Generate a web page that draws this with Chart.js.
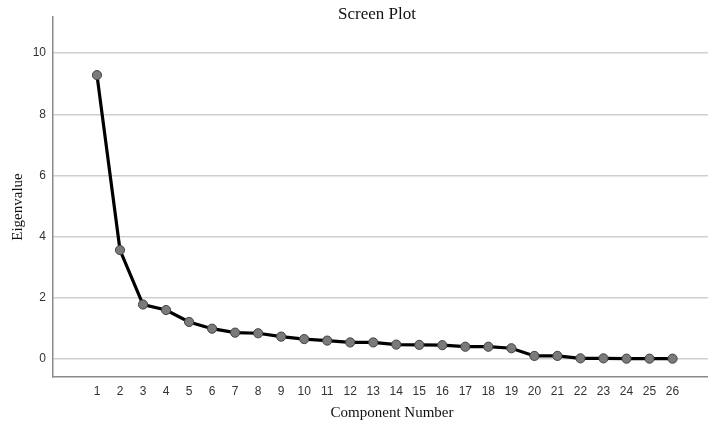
<!DOCTYPE html>
<html>
<head>
<meta charset="utf-8">
<script src="https://cdn.jsdelivr.net/npm/chart.js@4.4.1/dist/chart.umd.min.js"></script>
<style>
  html, body { margin: 0; padding: 0; background: #fff; }
  #wrap { width: 708px; height: 423px; }
</style>
</head>
<body>
<div id="wrap"><canvas id="chart_screePlot" width="708" height="423"></canvas></div>
<script>
// component numbers and eigenvalues
var components = [1, 2, 3, 4, 5, 6, 7, 8, 9, 10, 11, 12, 13, 14, 15, 16, 17, 18, 19, 20, 21, 22, 23, 24, 25, 26];
var eigenvalues = [9.28, 3.56, 1.78, 1.60, 1.21, 0.99, 0.86, 0.84, 0.73, 0.65, 0.60, 0.54, 0.54, 0.47, 0.46, 0.45, 0.40, 0.40, 0.35, 0.10, 0.10, 0.02, 0.02, 0.01, 0.01, 0.01];
var yTicks = [0, 2, 4, 6, 8, 10];

var points = components.map(function (c, i) { return { x: c, y: eigenvalues[i] }; });

var chart_screePlot = new Chart(document.getElementById('chart_screePlot'), {
    type: 'line',
    data: {
        datasets: [{
            label: 'Eigenvalue',
            data: points,
            borderColor: '#000',
            borderWidth: 3.2,
            pointRadius: 4.6,
            pointBackgroundColor: '#7a7a7a',
            pointBorderColor: '#444',
            pointBorderWidth: 1,
            tension: 0
        }]
    },
    options: {
        animation: false,
        responsive: false,
        layout: { autoPadding: false, padding: { top: 17, right: 0, left: 0, bottom: 0 } },
        plugins: {
            legend: { display: false },
            tooltip: { enabled: false },
            title: { display: false }
        },
        scales: {
            x: {
                type: 'linear',
                min: -0.91,
                max: 27.54,
                afterBuildTicks: function (scale) {
                    scale.ticks = components.map(function (c) { return { value: c }; });
                },
                afterFit: function (scale) {
                    scale.height = 46;
                    scale.paddingLeft = 0;
                    scale.paddingRight = 0;
                },
                grid: { display: false, drawTicks: false },
                border: { display: true, color: '#8a8a8a', width: 1.5 },
                ticks: {
                    padding: 7,
                    autoSkip: false,
                    maxRotation: 0,
                    color: '#333',
                    font: { family: 'Liberation Sans', size: 12 }
                }
            },
            y: {
                min: -0.59,
                max: 11.18,
                afterBuildTicks: function (scale) {
                    scale.ticks = yTicks.map(function (v) { return { value: v }; });
                },
                afterFit: function (scale) { scale.width = 53; },
                grid: { color: '#cfcfcf', lineWidth: 1.5, drawTicks: false },
                border: { display: true, color: '#8a8a8a', width: 1.5 },
                ticks: {
                    padding: 7,
                    color: '#333',
                    font: { family: 'Liberation Sans', size: 12 }
                }
            }
        }
    },
    plugins: [{
        id: 'customPlugin',
        beforeDraw: function (chart) {
            var ctx = chart.ctx;
            ctx.save();
            ctx.fillStyle = 'white';
            ctx.fillRect(0, 0, chart.width, chart.height);
            ctx.restore();
        },
        afterDraw: function (chart) {
            // titles placed like the original SPSS output
            var ctx = chart.ctx;
            ctx.save();
            ctx.fillStyle = '#111';
            ctx.textAlign = 'center';
            ctx.textBaseline = 'middle';
            ctx.font = '17px "Liberation Serif"';
            ctx.fillText('Screen Plot', 377, 15);
            ctx.font = '15px "Liberation Serif"';
            ctx.fillText('Component Number', 392, 413);
            ctx.translate(18, 207);
            ctx.rotate(-Math.PI / 2);
            ctx.fillText('Eigenvalue', 0, 0);
            ctx.restore();
        }
    }]
});
</script>
</body>
</html>
